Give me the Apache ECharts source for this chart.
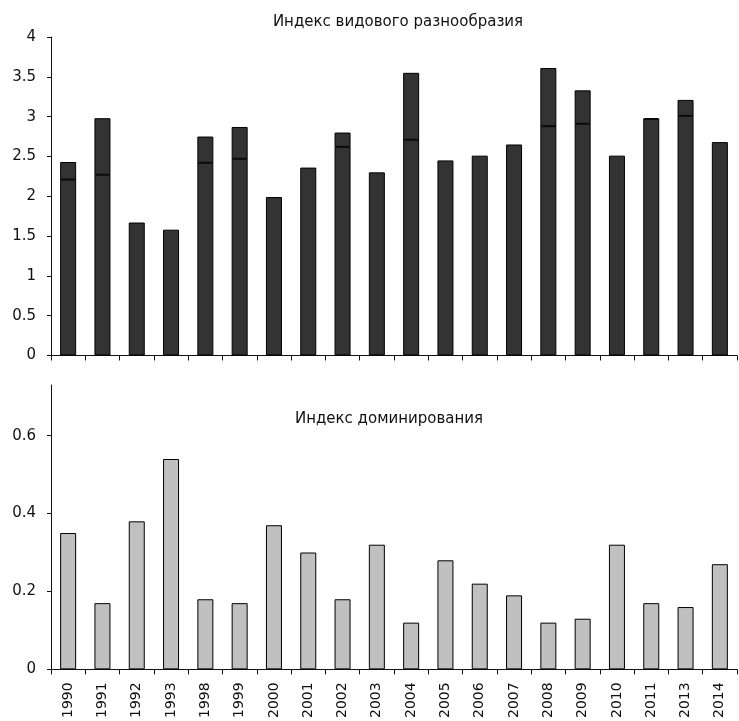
<!DOCTYPE html>
<html>
<head>
<meta charset="utf-8">
<script src="https://cdn.jsdelivr.net/npm/echarts@6/dist/echarts.min.js"></script>
<style>html,body{margin:0;padding:0;background:#fff;}#c{width:739px;height:721px;}</style>
</head>
<body>
<div id="c"></div>
<script>
var years = ['1990','1991','1992','1993','1998','1999','2000','2001','2002','2003','2004','2005','2006','2007','2008','2009','2010','2011','2013','2014'];
var diversity = [2.43,2.98,1.67,1.58,2.75,2.87,1.99,2.36,2.80,2.30,3.55,2.45,2.51,2.65,3.61,3.33,2.51,2.98,3.21,2.68];
var diversityMarks = [2.21,2.27,null,null,2.42,2.47,null,null,2.62,null,2.71,null,null,null,2.88,2.91,null,2.97,3.01,null];
var dominance = [0.35,0.17,0.38,0.54,0.18,0.17,0.37,0.30,0.18,0.32,0.12,0.28,0.22,0.19,0.12,0.13,0.32,0.17,0.16,0.27];
var topTicks = [0,0.5,1,1.5,2,2.5,3,3.5,4];
var bottomTicks = [0,0.2,0.4,0.6];
var titleTop = 'Индекс видового разнообразия';
var titleBottom = 'Индекс доминирования';

var FONT = 'DejaVu Sans';
var chart = echarts.init(document.getElementById('c'), null, {renderer:'canvas'});
var axisLine = {show:true, lineStyle:{color:'#111', width:1}};
chart.setOption({
  animation:false,
  backgroundColor:'#fff',
  title:[
    {text:titleTop, left:393, top:10, textAlign:'center', textStyle:{fontFamily:FONT, fontSize:15, fontWeight:'normal', color:'#111'}},
    {text:titleBottom, left:384, top:407, textAlign:'center', textStyle:{fontFamily:FONT, fontSize:15, fontWeight:'normal', color:'#111'}}
  ],
  grid:[
    {left:51, right:2, top:37, height:318.5},
    {left:51, right:2, top:385, height:286}
  ],
  xAxis:[
    {type:'category', gridIndex:0, data:years, boundaryGap:true, axisLine:axisLine,
     axisTick:{show:true, length:5, alignWithLabel:false, interval:0, lineStyle:{color:'#111'}},
     axisLabel:{show:false}, splitLine:{show:false}},
    {type:'category', gridIndex:1, data:years, boundaryGap:true, axisLine:axisLine,
     axisTick:{show:true, length:5, alignWithLabel:false, interval:0, lineStyle:{color:'#111'}},
     axisLabel:{show:true, interval:0, rotate:90, margin:13, fontFamily:FONT, fontSize:14, color:'#111'},
     splitLine:{show:false}}
  ],
  yAxis:[
    {type:'value', gridIndex:0, min:0, max:4, interval:0.5, axisLine:axisLine,
     axisTick:{show:true, length:4, lineStyle:{color:'#111'}, customValues:topTicks},
     axisLabel:{margin:15, fontFamily:FONT, fontSize:15, color:'#111', customValues:topTicks},
     splitLine:{show:false}},
    {type:'value', gridIndex:1, min:0, max:0.73, axisLine:axisLine,
     axisTick:{show:true, length:4, lineStyle:{color:'#111'}, customValues:bottomTicks},
     axisLabel:{margin:15, fontFamily:FONT, fontSize:15, color:'#111', customValues:bottomTicks},
     splitLine:{show:false}}
  ],
  series:[
    {type:'bar', xAxisIndex:0, yAxisIndex:0, data:diversity, barWidth:16,
     itemStyle:{color:'#333333', borderColor:'#000', borderWidth:1}},
    {type:'scatter', xAxisIndex:0, yAxisIndex:0, data:diversityMarks, symbol:'rect', symbolSize:[14,2],
     itemStyle:{color:'#000'}, z:5},
    {type:'bar', xAxisIndex:1, yAxisIndex:1, data:dominance, barWidth:16,
     itemStyle:{color:'#c0c0c0', borderColor:'#000', borderWidth:1}}
  ]
});
</script>
</body>
</html>
